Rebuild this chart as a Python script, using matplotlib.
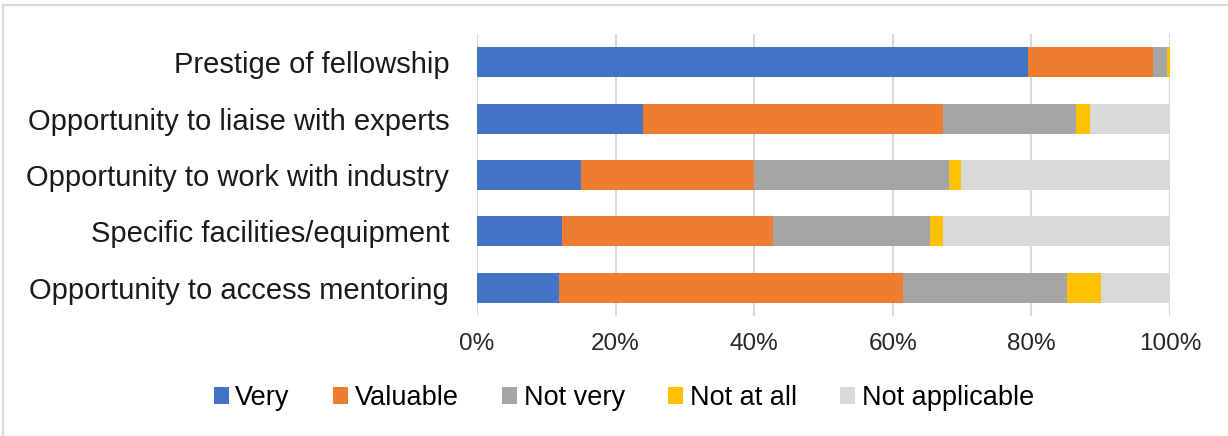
import matplotlib.pyplot as plt
from matplotlib.patches import Rectangle
import numpy as np

plt.rcParams["font.family"] = ["Liberation Sans", "DejaVu Sans"]

categories = [
    "Prestige of fellowship",
    "Opportunity to liaise with experts",
    "Opportunity to work with industry",
    "Specific facilities/equipment",
    "Opportunity to access mentoring",
]
series_names = ["Very", "Valuable", "Not very", "Not at all", "Not applicable"]
very = [79.5, 23.9, 15.0, 12.3, 11.9]
valuable = [18.0, 43.4, 25.0, 30.4, 49.5]
not_very = [2.0, 19.2, 28.1, 22.6, 23.7]
not_at_all = [0.5, 1.9, 1.8, 2.0, 5.0]
not_applicable = [0.0, 11.6, 30.1, 32.7, 9.9]
colors = ["#4472c4", "#ed7d31", "#a5a5a5", "#ffc000", "#d9d9d9"]

fig = plt.figure(figsize=(12.28, 4.36), dpi=100)
ax = fig.add_axes([477 / 1228, 1 - 316 / 436, 693 / 1228, 282 / 436])

# outer chart frame
fig.patches.append(Rectangle((3 / 1228, -0.1), 1.2, (436 - 5) / 436 + 0.1,
                             transform=fig.transFigure, fill=False,
                             edgecolor="#d9d9d9", linewidth=1.5))

y = np.arange(len(categories))[::-1]
left = np.zeros(len(categories))
for name, vals, c in zip(series_names,
                         [very, valuable, not_very, not_at_all, not_applicable],
                         colors):
    ax.barh(y, vals, left=left, height=0.53, color=c, label=name)
    left += np.array(vals)

ax.set_xlim(0, 100)
ax.set_ylim(-0.5, 4.5)
ax.set_xticks(range(0, 101, 20))
ax.set_xticklabels([f"{v}%" for v in range(0, 101, 20)], fontsize=17.5, color="#262626")
ax.set_yticks(y)
ax.set_yticklabels(categories, fontsize=21, color="#1a1a1a")
ax.tick_params(axis="y", length=0, pad=20)
ax.tick_params(axis="x", length=0, pad=12)
ax.grid(axis="x", color="#d9d9d9", linewidth=1.5)
ax.set_axisbelow(True)
for s in ax.spines.values():
    s.set_visible(False)

fig.legend(loc="center", bbox_to_anchor=(624 / 1228, 1 - 398 / 436), ncol=5,
           frameon=False, fontsize=19.5, handlelength=0.55, handleheight=0.55,
           handletextpad=0.25, columnspacing=1.6)

fig.savefig("out.png", dpi=100)
